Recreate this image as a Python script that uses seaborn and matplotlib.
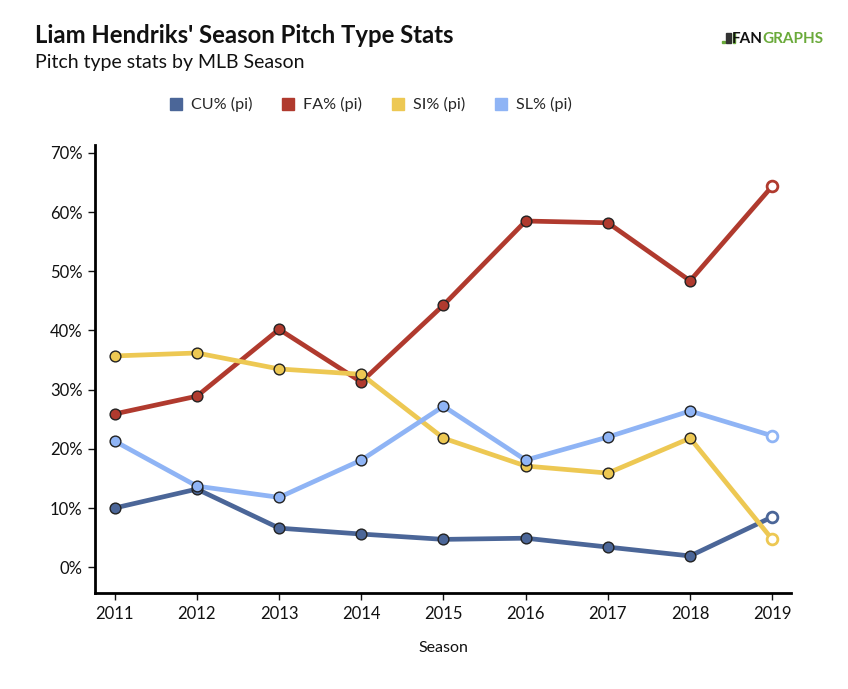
import matplotlib
matplotlib.use("Agg")
import matplotlib.pyplot as plt
import seaborn as sns
import pandas as pd
from matplotlib.lines import Line2D
from matplotlib.patches import Rectangle
from matplotlib.ticker import FuncFormatter

seasons = [2011, 2012, 2013, 2014, 2015, 2016, 2017, 2018, 2019]
cu = [10.0, 13.2, 6.6, 5.6, 4.7, 4.9, 3.4, 1.9, 8.5]
fa = [25.9, 28.9, 40.2, 31.3, 44.3, 58.5, 58.2, 48.4, 64.4]
si = [35.7, 36.2, 33.5, 32.6, 21.8, 17.1, 15.9, 21.8, 4.7]
sl = [21.3, 13.7, 11.8, 18.1, 27.2, 18.1, 22.0, 26.4, 22.2]
series_names = ["CU% (pi)", "FA% (pi)", "SI% (pi)", "SL% (pi)"]
colors = ["#4b6698", "#b03a2e", "#edc853", "#8fb4f5"]
yticks = [0, 10, 20, 30, 40, 50, 60, 70]

sns.set_theme(style="white")
plt.rcParams['font.family'] = ['Lato', 'DejaVu Sans']

rows = []
for name, vals in zip(series_names, [cu, fa, si, sl]):
    for s, v in zip(seasons, vals):
        rows.append({"Season": s, "Value": v, "Series": name})
df = pd.DataFrame(rows)

fig = plt.figure(figsize=(8.48, 6.89), dpi=100)
ax = fig.add_axes([0.112, 0.139, 0.821, 0.651])

palette = dict(zip(series_names, colors))
sns.lineplot(data=df, x="Season", y="Value", hue="Series", palette=palette,
             linewidth=3.4, legend=False, ax=ax, zorder=2)

last = max(seasons)
hist = df[df["Season"] < last]
cur = df[df["Season"] == last]
for name in series_names:
    h = hist[hist["Series"] == name]
    ax.scatter(h["Season"], h["Value"], s=60, color=palette[name],
               edgecolor="#222222", linewidth=1.0, zorder=3)
    c = cur[cur["Series"] == name]
    ax.scatter(c["Season"], c["Value"], s=60, color="white",
               edgecolor=palette[name], linewidth=2.0, zorder=3)

ax.set_xlim(2010.76, 2019.23)
ax.set_ylim(-4.4, 71.4)
ax.set_xticks(seasons)
ax.set_xticklabels([str(s) for s in seasons])
ax.set_yticks(yticks)
ax.yaxis.set_major_formatter(FuncFormatter(lambda v, p: f"{int(v)}%"))
ax.tick_params(axis="both", labelsize=12, colors="#111111", length=5,
               width=1, direction="out", left=True, bottom=True, pad=4)
for sp in ["top", "right"]:
    ax.spines[sp].set_visible(False)
for sp in ["left", "bottom"]:
    ax.spines[sp].set_color("black")
    ax.spines[sp].set_linewidth(2)
ax.set_xlabel("Season", fontsize=11.5, color="#111111", labelpad=14)
ax.set_ylabel("")
ax.grid(False)

fig.text(0.041, 0.948, "Liam Hendriks' Season Pitch Type Stats", fontsize=17.2,
         fontweight="bold", color="#111111", va="center", ha="left")
fig.text(0.041, 0.910, "Pitch type stats by MLB Season", fontsize=14,
         color="#111111", va="center", ha="left")

# FanGraphs logo
fig.text(0.899, 0.944, "FAN", fontsize=11, fontweight="bold", color="#111111",
         va="center", ha="right")
fig.text(0.899, 0.944, "GRAPHS", fontsize=11, fontweight="bold", color="#6aaa3a",
         va="center", ha="left")
fig.patches.append(Rectangle((0.851, 0.937), 0.0035, 0.004, transform=fig.transFigure,
                             color="#6aaa3a"))
fig.patches.append(Rectangle((0.8565, 0.937), 0.006, 0.015, transform=fig.transFigure,
                             color="#333333"))
fig.patches.append(Rectangle((0.8640, 0.937), 0.0022, 0.015, transform=fig.transFigure,
                             color="#6aaa3a"))

handles = [Line2D([0], [0], marker="s", linestyle="", markersize=9,
                  markerfacecolor=c, markeredgecolor=c) for c in colors]
fig.legend(handles, series_names, loc="center", bbox_to_anchor=(0.436, 0.848),
           ncol=4, frameon=False, fontsize=11.6, handletextpad=0.4,
           columnspacing=1.75, handlelength=1.0)

fig.savefig("out.png", dpi=100)
